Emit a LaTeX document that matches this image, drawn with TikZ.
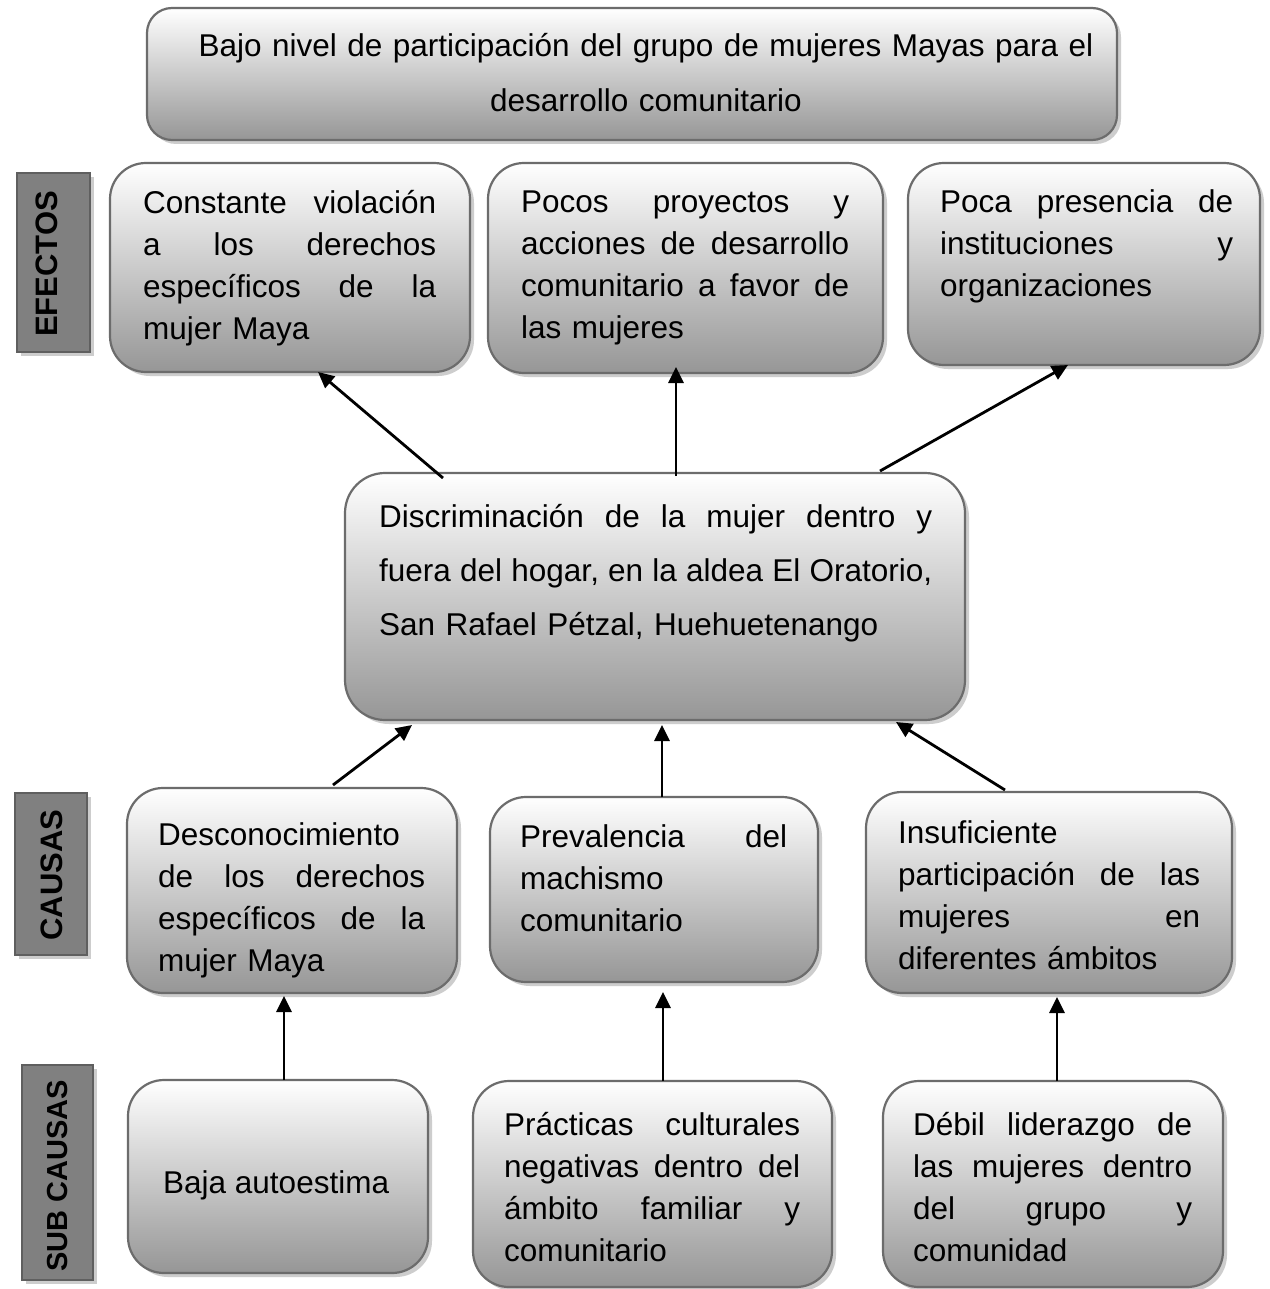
\documentclass[tikz,border=0pt]{standalone}
\usepackage{fontspec}
\setmainfont{Liberation Sans}
\usetikzlibrary{arrows.meta,shadows,fit}
\definecolor{bordergray}{RGB}{108,108,108}
\definecolor{shadegray}{RGB}{150,150,150}
\definecolor{labelgray}{RGB}{128,128,128}
\definecolor{labelborder}{RGB}{95,95,95}
\definecolor{shadowgray}{RGB}{205,205,205}
\begin{document}
\begin{tikzpicture}[x=1pt,y=-1pt,
  box/.style={draw=bordergray, line width=2.2pt, rounded corners=36pt,
    top color=white, bottom color=shadegray, inner sep=0pt, outer sep=0pt,
    drop shadow={shadow xshift=4pt, shadow yshift=-4pt, fill=shadowgray, opacity=1}},
  lblbox/.style={draw=labelborder, line width=1.5pt, fill=labelgray,
    inner sep=0pt, outer sep=0pt,
    drop shadow={shadow xshift=4pt, shadow yshift=-4pt, fill=shadowgray, opacity=1}},
  lbltext/.style={rotate=90, inner sep=0pt, anchor=center,
    font=\bfseries\fontsize{31pt}{36pt}\selectfont},
  txt/.style={anchor=base west, inner sep=0pt, align=left,
    font=\fontsize{31.5pt}{42pt}\selectfont},
  arr/.style={line width=2.8pt, -{Triangle[length=16pt,width=15pt]}}
]
\fill[white] (0,0) rectangle (1269,1289);
\useasboundingbox (0,0) rectangle (1269,1289);

% side labels
\node[lblbox, fit={(17,173) (90,352)}] (L1) {};
\node[lbltext] (L1t) at (47,264) {EFECTOS};
\node[lblbox, fit={(15,793) (87,955)}] (L2) {};
\node[lbltext] (L2t) at (52,875) {CAUSAS};
\node[lblbox, fit={(22,1065) (93,1280)}] (L3) {};
\node[lbltext, font=\bfseries\fontsize{29pt}{34pt}\selectfont] (L3t) at (58,1176) {SUB CAUSAS};

% top problem
\node[box, rounded corners=25pt, fit={(147,8) (1117,140)}] (top) {};
\node[anchor=base, inner sep=0pt, align=center, text width=980pt,
  font=\fontsize{31.5pt}{55pt}\selectfont] (topt) at (646,57)
  {Bajo nivel de participación del grupo de mujeres Mayas para el\\desarrollo comunitario};

% effects
\node[box, fit={(110,163) (470,372)}] (e1) {};
\node[txt, text width=293pt] (e1t) at (143,214)
  {Constante\hfill violación\\a\hfill los\hfill derechos\\específicos\hfill de\hfill la\\mujer Maya};
\node[box, fit={(488,163) (883,373)}] (e2) {};
\node[txt, text width=328pt] (e2t) at (521,213)
  {Pocos\hfill proyectos\hfill y\\acciones\hfill de\hfill desarrollo\\comunitario\hfill a\hfill favor\hfill de\\las mujeres};
\node[box, fit={(908,163) (1260,365)}] (e3) {};
\node[txt, text width=293pt] (e3t) at (940,213)
  {Poca\hfill presencia\hfill de\\instituciones\hfill y\\organizaciones};

% central problem
\node[box, rounded corners=40pt, fit={(345,473) (965,720)}] (c) {};
\node[txt, text width=553pt, font=\fontsize{31.5pt}{54pt}\selectfont] (ct) at (379,527)
  {Discriminación\hfill de\hfill la\hfill mujer\hfill dentro\hfill y\\fuera\hfill del\hfill hogar,\hfill en\hfill la\hfill aldea\hfill El\hfill Oratorio,\\San Rafael Pétzal, Huehuetenango};

% causes
\node[box, fit={(127,788) (457,993)}] (k1) {};
\node[txt, text width=267pt] (k1t) at (158,845)
  {Desconocimiento\\de\hfill los\hfill derechos\\específicos\hfill de\hfill la\\mujer Maya};
\node[box, fit={(490,797) (818,982)}] (k2) {};
\node[txt, text width=267pt] (k2t) at (520,847)
  {Prevalencia\hfill del\\machismo\\comunitario};
\node[box, fit={(866,792) (1232,993)}] (k3) {};
\node[txt, text width=302pt] (k3t) at (898,843)
  {Insuficiente\\participación\hfill de\hfill las\\mujeres\hfill en\\diferentes ámbitos};

% sub causes
\node[box, fit={(128,1080) (428,1273)}] (s1) {};
\node[txt] (s1t) at (163,1193) {Baja autoestima};
\node[box, fit={(473,1081) (832,1287)}] (s2) {};
\node[txt, text width=296pt] (s2t) at (504,1135)
  {Prácticas\hfill culturales\\negativas\hfill dentro\hfill del\\ámbito\hfill familiar\hfill y\\comunitario};
\node[box, fit={(883,1081) (1223,1287)}] (s3) {};
\node[txt, text width=279pt] (s3t) at (913,1135)
  {Débil\hfill liderazgo\hfill de\\las\hfill mujeres\hfill dentro\\del\hfill grupo\hfill y\\comunidad};

% connectors
\draw[arr] ([shift={(98,5)}]c.north west) -- ([shift={(208,0)}]e1.south west);
\draw[arr] ([shift={(331,3)}]c.north west) -- ([shift={(188,-6)}]e2.south west);
\draw[arr] ([shift={(535,-2)}]c.north west) -- ([shift={(160,0)}]e3.south west);
\draw[arr] ([shift={(206,-3)}]k1.north west) -- ([shift={(67,5)}]c.south west);
\draw[arr] ([shift={(172,0)}]k2.north west) -- ([shift={(317,5)}]c.south west);
\draw[arr] ([shift={(139,-2)}]k3.north west) -- ([shift={(551,2)}]c.south west);
\draw[arr] ([shift={(156,0)}]s1.north west) -- ([shift={(157,3)}]k1.south west);
\draw[arr] ([shift={(190,0)}]s2.north west) -- ([shift={(173,10)}]k2.south west);
\draw[arr] ([shift={(174,0)}]s3.north west) -- ([shift={(191,4)}]k3.south west);
\end{tikzpicture}
\end{document}
